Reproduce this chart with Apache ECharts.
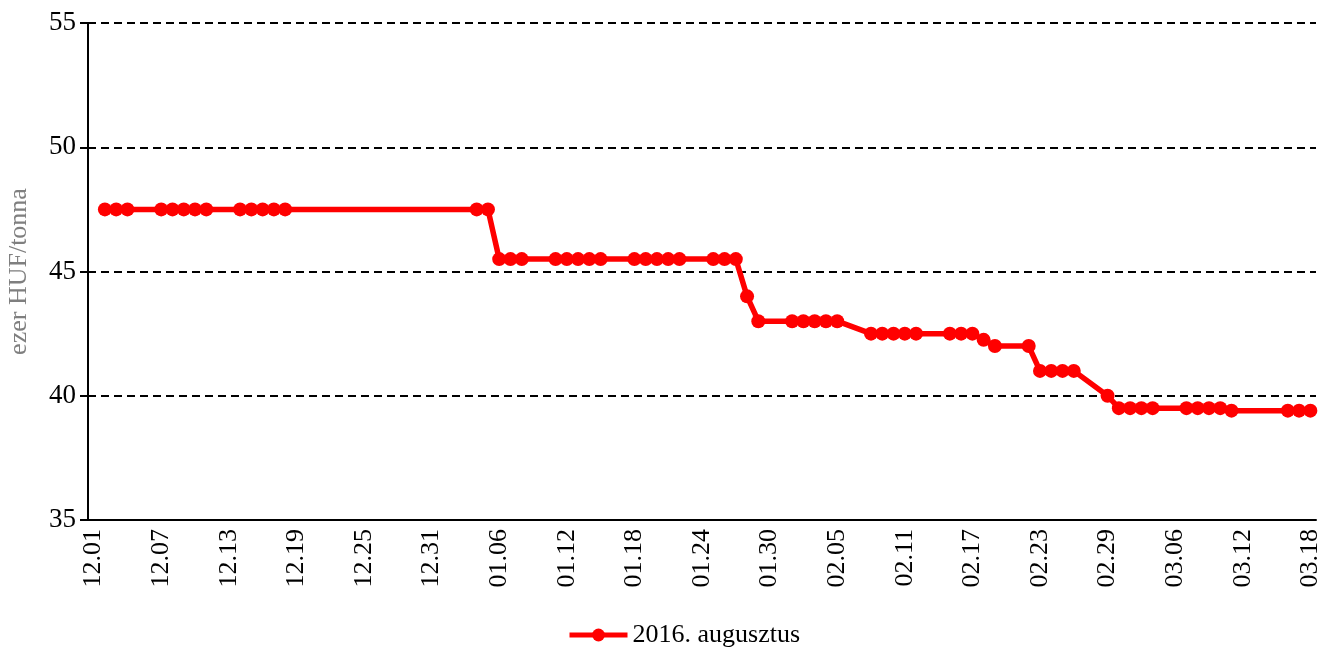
<!DOCTYPE html>
<html>
<head>
<meta charset="utf-8">
<script src="https://cdn.jsdelivr.net/npm/echarts@6/dist/echarts.min.js"></script>
<style>
html, body { margin: 0; padding: 0; background: #fff; }
#draw { width: 1325px; height: 647px; }
</style>
</head>
<body>
<div id="draw"></div>
<script>
// kereskedési napok és árak (ezer HUF/tonna)
var tradeDates = [
  "12.02", "12.03", "12.04",
  "12.07", "12.08", "12.09", "12.10", "12.11",
  "12.14", "12.15", "12.16", "12.17", "12.18",
  "01.04", "01.05", "01.06", "01.07", "01.08",
  "01.11", "01.12", "01.13", "01.14", "01.15",
  "01.18", "01.19", "01.20", "01.21", "01.22",
  "01.25", "01.26", "01.27", "01.28", "01.29",
  "02.01", "02.02", "02.03", "02.04", "02.05",
  "02.08", "02.09", "02.10", "02.11", "02.12",
  "02.15", "02.16", "02.17", "02.18", "02.19",
  "02.22", "02.23", "02.24", "02.25", "02.26",
  "02.29", "03.01", "03.02", "03.03", "03.04",
  "03.07", "03.08", "03.09", "03.10", "03.11",
  "03.16", "03.17", "03.18"
];
var prices = [
  47.5, 47.5, 47.5,
  47.5, 47.5, 47.5, 47.5, 47.5,
  47.5, 47.5, 47.5, 47.5, 47.5,
  47.5, 47.5, 45.5, 45.5, 45.5,
  45.5, 45.5, 45.5, 45.5, 45.5,
  45.5, 45.5, 45.5, 45.5, 45.5,
  45.5, 45.5, 45.5, 44.0, 43.0,
  43.0, 43.0, 43.0, 43.0, 43.0,
  42.5, 42.5, 42.5, 42.5, 42.5,
  42.5, 42.5, 42.5, 42.25, 42.0,
  42.0, 41.0, 41.0, 41.0, 41.0,
  40.0, 39.5, 39.5, 39.5, 39.5,
  39.5, 39.5, 39.5, 39.5, 39.4,
  39.4, 39.4, 39.4
];
var seriesName = "2016. augusztus";
var yTicks = [35, 40, 45, 50, 55];

// naptári napok 2015.12.01 - 2016.03.18
var days = [];
var d = new Date(Date.UTC(2015, 11, 1));
var end = new Date(Date.UTC(2016, 2, 18));
while (d <= end) {
  var mm = ("0" + (d.getUTCMonth() + 1)).slice(-2);
  var dd = ("0" + d.getUTCDate()).slice(-2);
  days.push(mm + "." + dd);
  d.setUTCDate(d.getUTCDate() + 1);
}
var values = days.map(function (day) {
  var i = tradeDates.indexOf(day);
  return i >= 0 ? prices[i] : null;
});

var font = "Liberation Serif";
var chart = echarts.init(document.getElementById("draw"));
var option = {
  animation: false,
  grid: { left: 88, right: 9, top: 23, bottom: 127, outerBoundsMode: "none" },
  legend: {
    data: [seriesName],
    left: 562,
    top: 617,
    itemWidth: 58,
    itemHeight: 16,
    itemGap: 4,
    lineStyle: { width: 5 },
    textStyle: { fontFamily: font, fontSize: 26, color: "#000" }
  },
  xAxis: {
    type: "category",
    data: days,
    boundaryGap: true,
    axisLine: { lineStyle: { color: "#000", width: 2 } },
    axisTick: { interval: 3, length: 6, lineStyle: { color: "#000", width: 2 } },
    axisLabel: {
      interval: 5,
      rotate: 90,
      margin: 9,
      fontFamily: font,
      fontSize: 26,
      color: "#000"
    },
    splitLine: { show: false }
  },
  yAxis: {
    type: "value",
    min: yTicks[0],
    max: yTicks[yTicks.length - 1],
    interval: 5,
    name: "ezer HUF/tonna",
    nameLocation: "middle",
    nameGap: 56,
    nameTextStyle: { fontFamily: font, fontSize: 26, color: "#7f7f7f" },
    axisLine: { show: true, lineStyle: { color: "#000", width: 2 } },
    axisTick: { show: true, length: 8, lineStyle: { color: "#000", width: 2 } },
    axisLabel: { margin: 12, fontFamily: font, fontSize: 27, color: "#000" },
    splitLine: {
      show: true,
      lineStyle: { color: "#000", width: 2, type: [8, 5] }
    }
  },
  series: [
    {
      name: seriesName,
      type: "line",
      data: values,
      connectNulls: true,
      symbol: "circle",
      symbolSize: 14,
      showAllSymbol: true,
      itemStyle: { color: "#ff0000" },
      lineStyle: { color: "#ff0000", width: 5.5 }
    }
  ]
};
chart.setOption(option);
</script>
</body>
</html>
